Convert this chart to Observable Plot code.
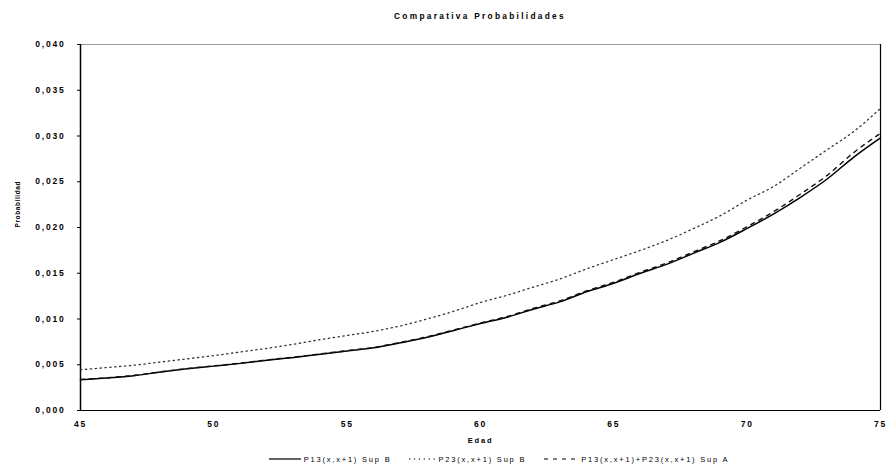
<!DOCTYPE html>
<html>
<head>
<meta charset="utf-8">
<script src="https://cdn.jsdelivr.net/npm/d3@7"></script>
<script src="https://cdn.jsdelivr.net/npm/@observablehq/plot@0.6"></script>
<style>
  html, body { margin: 0; padding: 0; background: #fff; }
  body { width: 896px; height: 468px; overflow: hidden; font-family: "Liberation Sans", Arial, sans-serif; }
  #title { height: 30px; line-height: 32px; text-align: center; font-size: 8.3px; font-weight: bold; letter-spacing: 2.3px; padding-left: 64px; color: #000; }
  #chart svg { display: block; font-family: "Liberation Sans", Arial, sans-serif; }
  #chart svg text { font-weight: bold; letter-spacing: 1.8px; }
  #chart svg g.ylab text { letter-spacing: 0.6px; }
  #legend { height: 18px; display: flex; align-items: center; justify-content: center; font-size: 7.5px; letter-spacing: 1.8px; color: #000; padding-left: 120px; }
  #legend .item { display: flex; align-items: center; margin-right: 18px; }
  #legend svg { margin-right: 3px; }
</style>
</head>
<body>
<div id="title">Comparativa Probabilidades</div>
<div id="chart"></div>
<div id="legend"></div>
<script>
const ages = [45,46,47,48,49,50,51,52,53,54,55,56,57,58,59,60,61,62,63,64,65,66,67,68,69,70,71,72,73,74,75];
const p13SupB = [0.00336,0.00355,0.00380,0.00420,0.00455,0.00485,0.00515,0.00550,0.00580,0.00615,0.00650,0.00685,0.00740,0.00800,0.00875,0.00950,0.01020,0.01110,0.01190,0.01300,0.01390,0.01500,0.01600,0.01720,0.01840,0.01990,0.02150,0.02330,0.02530,0.02770,0.02980];
const p23SupB = [0.00445,0.00470,0.00495,0.00530,0.00565,0.00600,0.00640,0.00680,0.00725,0.00775,0.00820,0.00865,0.00925,0.01000,0.01085,0.01180,0.01260,0.01350,0.01440,0.01550,0.01650,0.01750,0.01860,0.01990,0.02130,0.02300,0.02450,0.02650,0.02850,0.03050,0.03300];
const sumSupA = [0.00340,0.00358,0.00384,0.00423,0.00458,0.00488,0.00518,0.00553,0.00584,0.00619,0.00655,0.00690,0.00745,0.00806,0.00881,0.00957,0.01028,0.01118,0.01200,0.01310,0.01402,0.01512,0.01614,0.01735,0.01858,0.02010,0.02175,0.02365,0.02570,0.02820,0.03030];
const seriesNames = ["P13(x,x+1) Sup B", "P23(x,x+1) Sup B", "P13(x,x+1)+P23(x,x+1) Sup A"];
const yTicks = [0,0.005,0.010,0.015,0.020,0.025,0.030,0.035,0.040];
const xTicks = [45,50,55,60,65,70,75];
const xLabel = "Edad";
const yLabel = "Probabilidad";

const rows = (vals) => ages.map((a, i) => ({age: a, p: vals[i]}));
const fmt = (d) => d3.format(".3f")(d).replace(".", ",");

const chart = Plot.plot({
  width: 896,
  height: 420,
  marginLeft: 80,
  marginRight: 16,
  marginTop: 14,
  marginBottom: 40,
  x: {domain: [45, 75]},
  y: {domain: [0, 0.04]},
  marks: [
    Plot.ruleY([0.04], {stroke: "#9a9a9a", strokeWidth: 1}),
    Plot.ruleX([75], {stroke: "#000", strokeWidth: 1.2}),
    Plot.ruleX([45], {stroke: "#000", strokeWidth: 1.5}),
    Plot.ruleY([0], {stroke: "#000", strokeWidth: 1.2}),
    Plot.axisY({ticks: yTicks, tickFormat: fmt, tickSize: 3, tickPadding: 12, fontSize: 8.5, label: null}),
    Plot.axisX({ticks: xTicks, tickFormat: d => String(d), tickSize: 0, tickPadding: 10, fontSize: 8.5, label: null}),
    Plot.text([xLabel], {frameAnchor: "bottom", dy: 32, fontSize: 7.5, fontWeight: "bold"}),
    Plot.text([yLabel], {frameAnchor: "left", dx: -63, rotate: -90, fontSize: 6.5, fontWeight: "bold", className: "ylab"}),
    Plot.line(rows(p23SupB), {x: "age", y: "p", stroke: "#333", strokeWidth: 1.3, strokeDasharray: "1.3,3.6", curve: "monotone-x"}),
    Plot.line(rows(p13SupB), {x: "age", y: "p", stroke: "#000", strokeWidth: 1.5, curve: "monotone-x"}),
    Plot.line(rows(sumSupA), {x: "age", y: "p", stroke: "#111", strokeWidth: 1.4, strokeDasharray: "4,5", curve: "monotone-x"})
  ]
});
document.getElementById("chart").appendChild(chart);

const styles = [
  {dash: null, w: 32},
  {dash: "1.3,3.6", w: 26},
  {dash: "4,5", w: 34}
];
const legend = document.getElementById("legend");
seriesNames.forEach((name, i) => {
  const item = document.createElement("div");
  item.className = "item";
  const s = styles[i];
  item.innerHTML = `<svg width="${s.w}" height="6"><line x1="0" x2="${s.w}" y1="3" y2="3" stroke="#000" stroke-width="1.2" ${s.dash ? `stroke-dasharray="${s.dash}"` : ""}/></svg><span>${name}</span>`;
  legend.appendChild(item);
});
</script>
</body>
</html>
